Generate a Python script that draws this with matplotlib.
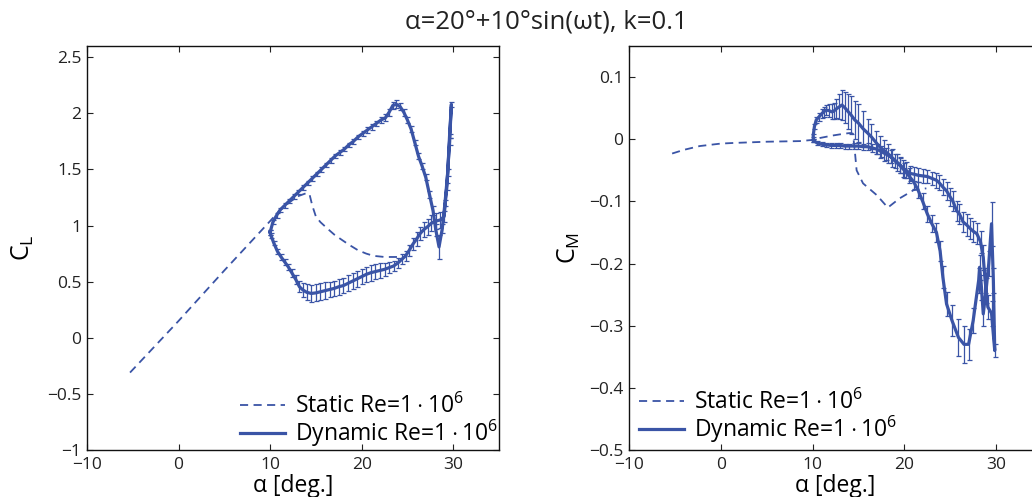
import numpy as np
import matplotlib
matplotlib.use("Agg")
import matplotlib.pyplot as plt
from matplotlib.ticker import FuncFormatter

plt.rcParams['font.family'] = ['Open Sans', 'DejaVu Sans']
plt.rcParams['mathtext.fontset'] = 'custom'
plt.rcParams['mathtext.rm'] = 'Open Sans'
plt.rcParams['mathtext.it'] = 'Open Sans'
plt.rcParams['axes.unicode_minus'] = True

BLUE = '#3a54a6'

# ---- static polars ----
alpha_static_cl = [-5.3, 0.0, 5.0, 10.0, 11.0, 12.0, 13.0, 14.0, 14.3, 14.6, 15.0,
                   15.5, 16.3, 17.0, 17.7, 18.6, 19.6, 20.5, 21.3, 22.5, 23.9]
cl_static = [-0.31, 0.15, 0.60, 1.04, 1.13, 1.20, 1.26, 1.29, 1.28, 1.18, 1.08,
             1.03, 0.97, 0.92, 0.88, 0.83, 0.78, 0.75, 0.73, 0.72, 0.72]

alpha_static_cm = [-5.3, -4.0, -2.3, 0.0, 1.4, 5.0, 8.6, 10.1, 10.8, 12.2, 13.5,
                   14.1, 14.4, 14.6, 14.8, 15.5, 17.0, 18.2, 19.5, 21.0, 22.4]
cm_static = [-0.023, -0.017, -0.011, -0.007, -0.006, -0.004, -0.003, -0.001, 0.002,
             0.006, 0.009, 0.010, 0.009, -0.018, -0.050, -0.071, -0.090, -0.110,
             -0.095, -0.082, -0.079]

# ---- dynamic lift, upstroke then downstroke ----
alpha_cl_up = [10.0, 10.3, 10.7, 11.1, 11.6, 12.1, 12.6, 13.1, 13.6, 14.1, 14.6, 15.1,
               15.6, 16.1, 16.6, 17.1, 17.6, 18.1, 18.6, 19.1, 19.6, 20.1, 20.6, 21.1,
               21.6, 22.1, 22.6, 23.0, 23.4, 23.8, 24.2, 24.6, 25.0, 25.4, 25.8, 26.2,
               26.6, 27.0, 27.4, 27.8, 28.1, 28.45, 28.8, 29.1, 29.4, 29.6, 29.8]
cl_up = [0.94, 1.03, 1.09, 1.14, 1.18, 1.22, 1.26, 1.30, 1.34, 1.38, 1.42, 1.46,
         1.50, 1.54, 1.58, 1.62, 1.65, 1.68, 1.72, 1.75, 1.79, 1.82, 1.85, 1.88,
         1.91, 1.94, 1.96, 2.01, 2.07, 2.08, 2.06, 2.01, 1.94, 1.86, 1.74, 1.62,
         1.53, 1.43, 1.28, 1.13, 0.96, 0.81, 0.97, 1.20, 1.47, 1.80, 2.08]
cl_up_err = [0.02, 0.02, 0.02, 0.02, 0.02, 0.02, 0.02, 0.02, 0.02, 0.02, 0.02, 0.02,
             0.02, 0.02, 0.02, 0.02, 0.02, 0.02, 0.02, 0.02, 0.02, 0.02, 0.025, 0.025,
             0.025, 0.025, 0.03, 0.03, 0.035, 0.035, 0.03, 0.03, 0.025, 0.025, 0.025, 0.025,
             0.025, 0.025, 0.03, 0.04, 0.05, 0.11, 0.04, 0.03, 0.03, 0.02, 0.02]

alpha_cl_dn = [29.6, 29.3, 29.0, 28.6, 28.1, 27.6, 27.2, 26.8, 26.4, 26.0, 25.6, 25.2,
               24.8, 24.4, 24.0, 23.5, 23.0, 22.5, 22.0, 21.5, 21.0, 20.5, 20.0, 19.5,
               19.0, 18.5, 18.0, 17.5, 17.0, 16.5, 16.0, 15.5, 15.0, 14.5, 14.0, 13.6,
               13.2, 12.8, 12.4, 12.0, 11.6, 11.2, 10.8, 10.4, 10.1, 10.0]
cl_dn = [1.75, 1.35, 1.08, 1.05, 1.04, 1.02, 0.99, 0.965, 0.93, 0.88, 0.835, 0.78,
         0.73, 0.70, 0.67, 0.64, 0.625, 0.61, 0.60, 0.59, 0.58, 0.565, 0.545, 0.525,
         0.505, 0.485, 0.465, 0.455, 0.44, 0.43, 0.42, 0.41, 0.40, 0.395, 0.405, 0.425,
         0.455, 0.52, 0.575, 0.63, 0.675, 0.72, 0.77, 0.845, 0.91, 0.94]
cl_dn_err = [0.03, 0.03, 0.05, 0.07, 0.07, 0.07, 0.07, 0.065, 0.06, 0.06, 0.055, 0.05,
             0.045, 0.045, 0.045, 0.045, 0.05, 0.06, 0.065, 0.07, 0.07, 0.07, 0.07, 0.07,
             0.07, 0.07, 0.07, 0.07, 0.07, 0.07, 0.075, 0.075, 0.075, 0.075, 0.07, 0.06,
             0.05, 0.04, 0.035, 0.03, 0.03, 0.025, 0.02, 0.02, 0.02, 0.02]

# ---- dynamic pitching moment, upstroke then downstroke ----
alpha_cm_up = [10.1, 10.5, 11.0, 11.5, 12.0, 12.5, 13.0, 13.5, 14.0, 14.5, 15.0, 15.5,
               16.0, 16.5, 17.0, 17.5, 18.0, 18.5, 19.0, 19.5, 20.0, 20.5, 21.0, 21.5,
               22.0, 22.5, 23.0, 23.5, 23.9, 24.2, 24.6, 25.2, 25.9, 26.5, 27.0, 27.5,
               28.1, 28.2, 28.4, 28.6, 28.9, 29.2, 29.5, 29.7, 29.85]
cm_up = [-0.002, -0.006, -0.008, -0.009, -0.010, -0.010, -0.010, -0.011, -0.011, -0.011,
         -0.011, -0.012, -0.012, -0.014, -0.016, -0.020, -0.024, -0.028, -0.035, -0.042,
         -0.050, -0.059, -0.068, -0.082, -0.100, -0.120, -0.136, -0.150, -0.180, -0.222,
         -0.265, -0.292, -0.319, -0.330, -0.330, -0.292, -0.227, -0.206, -0.238, -0.281,
         -0.244, -0.200, -0.136, -0.227, -0.340]
cm_up_err = [0.003, 0.003, 0.003, 0.003, 0.004, 0.004, 0.004, 0.004, 0.004, 0.005,
             0.005, 0.005, 0.006, 0.007, 0.008, 0.009, 0.010, 0.011, 0.011, 0.012,
             0.012, 0.012, 0.012, 0.013, 0.013, 0.013, 0.014, 0.015, 0.016, 0.018,
             0.02, 0.025, 0.03, 0.03, 0.025, 0.02, 0.02, 0.02, 0.02, 0.02,
             0.02, 0.02, 0.035, 0.02, 0.01]

alpha_cm_dn = [29.5, 29.1, 28.8, 28.6, 28.3, 27.9, 27.5, 27.2, 26.8, 26.4, 26.0, 25.7,
               25.3, 25.0, 24.6, 24.2, 23.8, 23.5, 23.0, 22.5, 22.0, 21.5, 21.0, 20.6,
               20.2, 19.9, 19.5, 19.2, 18.7, 18.2, 17.8, 17.3, 16.9, 16.4, 16.0, 15.5,
               15.0, 14.6, 14.2, 13.9, 13.5, 13.2, 12.9, 12.6, 12.3, 12.1, 11.8, 11.5,
               11.2, 11.0, 10.7, 10.4, 10.2, 10.07, 10.1]
cm_dn = [-0.280, -0.270, -0.227, -0.190, -0.165, -0.152, -0.148, -0.144, -0.138, -0.133,
         -0.120, -0.115, -0.100, -0.093, -0.083, -0.077, -0.070, -0.066, -0.063, -0.060,
         -0.059, -0.058, -0.056, -0.055, -0.050, -0.047, -0.041, -0.037, -0.030, -0.023,
         -0.018, -0.012, -0.005, 0.004, 0.010, 0.017, 0.026, 0.031, 0.039, 0.044,
         0.051, 0.055, 0.052, 0.049, 0.045, 0.044, 0.046, 0.047, 0.044, 0.041,
         0.036, 0.031, 0.020, 0.006, -0.002]
cm_dn_err = [0.02, 0.02, 0.02, 0.02, 0.018, 0.017, 0.017, 0.017, 0.017, 0.016,
             0.016, 0.016, 0.016, 0.015, 0.014, 0.013, 0.012, 0.012, 0.011, 0.011,
             0.011, 0.011, 0.012, 0.012, 0.013, 0.013, 0.013, 0.014, 0.015, 0.016,
             0.017, 0.018, 0.019, 0.02, 0.022, 0.028, 0.03, 0.03, 0.03, 0.028,
             0.025, 0.024, 0.02, 0.015, 0.013, 0.012, 0.01, 0.008, 0.008, 0.007,
             0.006, 0.005, 0.004, 0.003, 0.003]

alpha_ticks = [-10, 0, 10, 20, 30]
cl_ticks = [-1, -0.5, 0, 0.5, 1, 1.5, 2, 2.5]
cm_ticks = [-0.5, -0.4, -0.3, -0.2, -0.1, 0, 0.1]

title_text = u'\u03b1=20\u00b0+10\u00b0sin(\u03c9t), k=0.1'
xlabel_text = u'\u03b1 [deg.]'
static_label = r'Static Re=$1\cdot10^{6}$'
dynamic_label = r'Dynamic Re=$1\cdot10^{6}$'

W, H = 1032, 497
fig = plt.figure(figsize=(W / 100, H / 100), dpi=100)

ax1 = fig.add_axes([87 / W, 1 - 450 / H, 412 / W, 404 / H])
ax2 = fig.add_axes([629 / W, 1 - 450 / H, 413 / W, 404 / H])


def fmt(v, pos):
    s = '%g' % v
    return s.replace('-', u'\u2212')


def style(ax):
    ax.tick_params(direction='in', top=True, right=True, length=4, width=0.8,
                   labelsize=12.5, pad=4, colors='#222222')
    ax.tick_params(axis='x', pad=5)
    for sp in ax.spines.values():
        sp.set_linewidth(1.0)
        sp.set_color('#111111')
    ax.xaxis.set_major_formatter(FuncFormatter(fmt))
    ax.yaxis.set_major_formatter(FuncFormatter(fmt))
    ax.set_xlim(-10, 35)
    ax.set_xticks(alpha_ticks)
    ax.set_xlabel(xlabel_text, fontsize=16.5, labelpad=1)


def draw(ax, a_st, v_st, a_up, v_up, e_up, a_dn, v_dn, e_dn):
    a = np.concatenate([a_up, a_dn])
    v = np.concatenate([v_up, v_dn])
    e = np.concatenate([e_up, e_dn])
    ax.plot(a_st, v_st, color=BLUE, lw=1.3, dashes=(4.5, 3.0), label=static_label)
    ax.errorbar(a, v, yerr=e, fmt='none', ecolor=BLUE, elinewidth=0.9,
                capsize=1.8, capthick=0.9)
    ax.plot(a, v, color=BLUE, lw=2.3, solid_joinstyle='round', label=dynamic_label)


def add_legend(ax, x0, y0):
    ax.legend(loc='lower left', bbox_to_anchor=(x0, y0), bbox_transform=fig.transFigure,
              frameon=False, fontsize=16.5, handlelength=1.95, handletextpad=0.45,
              borderaxespad=0.0, borderpad=0.0, labelspacing=-0.05)


draw(ax1, alpha_static_cl, cl_static, alpha_cl_up, cl_up, cl_up_err,
     alpha_cl_dn, cl_dn, cl_dn_err)
style(ax1)
ax1.set_ylim(-1, 2.6)
ax1.set_yticks(cl_ticks)
ax1.set_ylabel(r'C$_{\rm L}$', fontsize=18, labelpad=8)
add_legend(ax1, 240 / W, 1 - 449 / H)

draw(ax2, alpha_static_cm, cm_static, alpha_cm_up, cm_up, cm_up_err,
     alpha_cm_dn, cm_dn, cm_dn_err)
style(ax2)
ax2.set_ylim(-0.5, 0.15)
ax2.set_yticks(cm_ticks)
ax2.set_ylabel(r'C$_{\rm M}$', fontsize=18, labelpad=5)
add_legend(ax2, 639 / W, 1 - 445 / H)

fig.text(546 / W, 1 - 22 / H, title_text, ha='center', va='center', fontsize=18.5,
         color='#222222')

fig.savefig('out.png', dpi=100)
